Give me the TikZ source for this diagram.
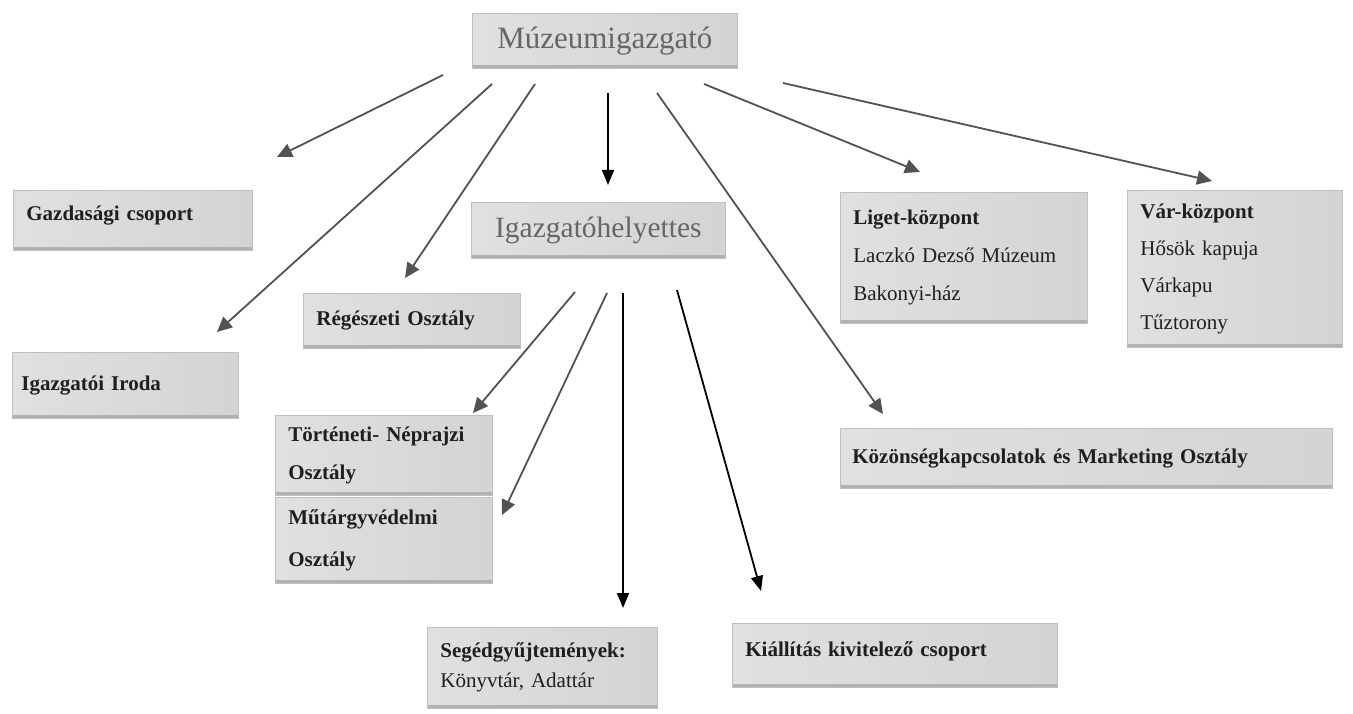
\documentclass[tikz,border=0pt]{standalone}
\usepackage{fontspec}
\setmainfont{Liberation Serif}
\usetikzlibrary{arrows.meta}
\begin{document}
\begin{tikzpicture}[x=1pt,y=-1pt,
  boxbase/.style={anchor=north west, inner xsep=13pt, inner ysep=0pt,
    left color=gray!24, middle color=gray!5, right color=gray!34,
    draw=gray!50, line width=0.7pt, align=left, text=black!88,
    path picture={\fill[gray!60] ([yshift=3.5pt]path picture bounding box.south west) rectangle (path picture bounding box.south east);}},
  orgbox/.style={boxbase, font=\bfseries\fontsize{21}{38}\selectfont},
  headbox/.style={boxbase, align=center, inner xsep=4pt, text=black!60, font=\fontsize{31}{36}\selectfont},
  conn/.style={draw=black!68, line width=1.8pt, -{Triangle[length=15pt,width=14pt]}},
  connb/.style={draw=black, line width=1.8pt, -{Triangle[length=15pt,width=12pt]}}
]
\useasboundingbox (0,0) rectangle (1353,714);

% boxes
\node[headbox, minimum width=265pt, minimum height=55pt] (mi) at (472,13) {Múzeumigazgató};
\node[headbox, minimum width=254pt, minimum height=56pt, font=\fontsize{29.5}{34}\selectfont] (ih) at (471,202) {Igazgatóhelyettes};

\node[orgbox, text width=213pt, minimum height=60pt] (gaz) at (13,190) {Gazdasági csoport\\[-24pt]\mbox{}};
\node[orgbox, text width=191pt, minimum height=55pt] (reg) at (303,293) {Régészeti Osztály};
\node[orgbox, inner xsep=9pt, text width=208pt, minimum height=66pt] (iro) at (12,352) {Igazgatói Iroda};
\node[orgbox, text width=191pt, minimum height=80pt] (tort) at (275,415) {\makebox[191pt][s]{Történeti- Néprajzi}\\Osztály};
\node[orgbox, text width=191pt, minimum height=86pt, font=\bfseries\fontsize{21}{42}\selectfont] (mut) at (275,497) {Műtárgyvédelmi\\Osztály};
\node[orgbox, text width=204pt, minimum height=81pt, font=\bfseries\fontsize{21}{30}\selectfont] (seg) at (427,627) {Segédgyűjtemények:\\\mdseries Könyvtár, Adattár};
\node[orgbox, text width=299pt, minimum height=64pt] (kia) at (732,623) {Kiállítás kivitelező csoport\\[-26pt]\mbox{}};
\node[orgbox, text width=221pt, minimum height=131pt] (lig) at (840,192) {Liget-központ\\\mdseries Laczkó Dezső Múzeum\\\mdseries Bakonyi-ház};
\node[orgbox, text width=189pt, minimum height=157pt, font=\bfseries\fontsize{21}{37}\selectfont] (var) at (1127,190) {Vár-központ\\\mdseries Hősök kapuja\\\mdseries Várkapu\\\mdseries Tűztorony};
\node[orgbox, inner xsep=12pt, text width=468pt, minimum height=60pt] (koz) at (840,428) {Közönségkapcsolatok és Marketing Osztály};

% connector end points
\coordinate (s1) at (443,75);  \coordinate (e1) at (277,157);
\coordinate (s2) at (492,84);  \coordinate (e2) at (217,332);
\coordinate (s3) at (535,84);  \coordinate (e3) at (405,278);
\coordinate (s4) at (608,93);  \coordinate (e4) at (608,185);
\coordinate (s5) at (657,93);  \coordinate (e5) at (883,414);
\coordinate (s6) at (704,84);  \coordinate (e6) at (920,172);
\coordinate (s7) at (783,83);  \coordinate (e7) at (1212,181);
\coordinate (s8) at (575,292); \coordinate (e8) at (473,413);
\coordinate (s9) at (607,293); \coordinate (e9) at (502,515);
\coordinate (s10) at (623,293); \coordinate (e10) at (623,608);
\coordinate (s11) at (677,290); \coordinate (e11) at (761,591);

\draw[conn] (s1) -- (e1);
\draw[conn] (s2) -- (e2);
\draw[conn] (s3) -- (e3);
\draw[connb] (s4) -- (e4);
\draw[conn] (s5) -- (e5);
\draw[conn] (s6) -- (e6);
\draw[conn] (s7) -- (e7);
\draw[conn] (s8) -- (e8);
\draw[conn] (s9) -- (e9);
\draw[connb] (s10) -- (e10);
\draw[connb] (s11) -- (e11);
\end{tikzpicture}
\end{document}
